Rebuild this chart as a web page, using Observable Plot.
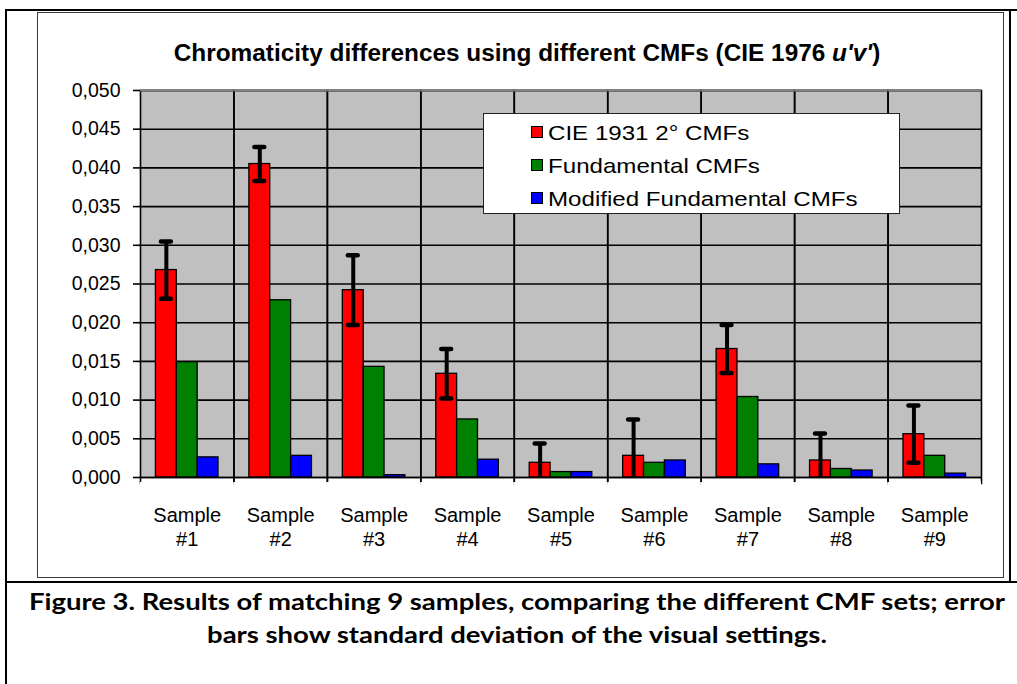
<!DOCTYPE html>
<html>
<head>
<meta charset="utf-8">
<script src="https://cdn.jsdelivr.net/npm/d3@7"></script>
<script src="https://cdn.jsdelivr.net/npm/@observablehq/plot@0.6"></script>
<style>
  html, body { margin: 0; padding: 0; background: #fff; }
  #page { position: relative; width: 1017px; height: 684px; overflow: hidden; font-family: "Liberation Sans", Arial, sans-serif; color: #000; }
  .line { position: absolute; background: #000; }
  .fit { position: absolute; white-space: nowrap; line-height: 1; }
  #chartBox { position: absolute; left: 37px; top: 12px; width: 967px; height: 566px; box-sizing: border-box; border: 1.5px solid #3a3a3a; }
  #legend { position: absolute; left: 483px; top: 113px; width: 417px; height: 101px; box-sizing: border-box; border: 1.5px solid #222; background: #fff; }
  .sw { position: absolute; width: 12px; height: 12px; box-sizing: border-box; border: 1px solid #000; }
  .lt { position: absolute; white-space: nowrap; font-size: 21px; line-height: 1; transform-origin: 0 50%; }
  #plotWrap { position: absolute; left: 0; top: 70px; }
</style>
</head>
<body>
<div id="page">
  <div id="chartBox"></div>
  <div class="line" style="left:5px;top:9px;width:1012px;height:2px;"></div>
  <div class="line" style="left:5px;top:9px;width:2px;height:675px;"></div>
  <div class="line" style="left:1009px;top:9px;width:2px;height:574px;"></div>
  <div class="line" style="left:5px;top:581px;width:1012px;height:2px;"></div>
  <div id="plotWrap"></div>
  <div id="title" class="fit" style="font-weight:bold;font-size:23px;">Chromaticity differences using different CMFs (CIE 1976 <i>u'v'</i>)</div>
  <div id="legend"></div>
  <div id="cap1" class="fit" style="font-family:Lato,'Noto Sans',sans-serif;font-weight:bold;font-size:23.5px;">Figure 3. Results of matching 9 samples, comparing the different CMF sets; error</div>
  <div id="cap2" class="fit" style="font-family:Lato,'Noto Sans',sans-serif;font-weight:bold;font-size:23.5px;">bars show standard deviation of the visual settings.</div>
</div>
<script>
// ---- Data ----
const samples = ["#1", "#2", "#3", "#4", "#5", "#6", "#7", "#8", "#9"];
const series = ["CIE 1931 2° CMFs", "Fundamental CMFs", "Modified Fundamental CMFs"];
const colors = ["#ff0000", "#008000", "#0000ff"];
const cie1931 = [0.0268, 0.0405, 0.0242, 0.0134, 0.0019, 0.0028, 0.0166, 0.0022, 0.0056];
const fundamental = [0.0149, 0.0229, 0.0143, 0.0075, 0.0007, 0.0019, 0.0104, 0.0011, 0.0028];
const modifiedFundamental = [0.0026, 0.0028, 0.0003, 0.0023, 0.0007, 0.0022, 0.0017, 0.0009, 0.0005];
const cie1931SD = [0.0037, 0.0022, 0.0045, 0.0032, 0.0025, 0.0047, 0.0031, 0.0035, 0.0037];
const yTicks = [0, 0.005, 0.010, 0.015, 0.020, 0.025, 0.030, 0.035, 0.040, 0.045, 0.050];

const valuesBySeries = [cie1931, fundamental, modifiedFundamental];
const bars = samples.flatMap((s, i) => series.map((k, j) => ({sample: s, series: k, value: valuesBySeries[j][i]})));
const errs = samples.map((s, i) => ({sample: s, series: series[0], lo: cie1931[i] - cie1931SD[i], hi: cie1931[i] + cie1931SD[i]}));
const fmt = d => d3.format(".3f")(d).replace(".", ",");

const plot = Plot.plot({
  width: 1017,
  height: 480,
  marginLeft: 140,
  marginRight: 36,
  marginTop: 20,
  marginBottom: 73,
  style: {fontFamily: "'Liberation Sans', Arial, sans-serif", fontSize: "19px", color: "#000", background: "transparent", overflow: "visible"},
  fx: {domain: samples, paddingInner: 0, paddingOuter: 0, round: false, axis: null, label: null},
  x: {domain: series, paddingInner: 0, paddingOuter: 0.74, round: false, axis: null},
  y: {domain: [0, 0.05], axis: null},
  color: {domain: series, range: colors},
  marks: [
    Plot.frame({fill: "#c0c0c0", stroke: "none"}),
    Plot.ruleY(yTicks, {stroke: "#000", strokeWidth: 1.6}),
    Plot.frame({stroke: "#000", strokeWidth: 1.6, insetBottom: -6}),
    Plot.ruleY([0], {stroke: "#fff", strokeWidth: 3, dy: 6}),
    Plot.ruleY([0.05], {stroke: "#808080", strokeWidth: 2}),
    Plot.barY(bars, {fx: "sample", x: "series", y: "value", fill: "series", stroke: "#000", strokeWidth: 1.3}),
    Plot.ruleX(errs, {fx: "sample", x: "series", y1: "lo", y2: "hi", stroke: "#000", strokeWidth: 4, clip: true}),
    Plot.tickY(errs, {fx: "sample", x: "series", y: "hi", stroke: "#000", strokeWidth: 4.5, strokeLinecap: "round", insetLeft: 5.5, insetRight: 5.5, clip: true}),
    Plot.tickY(errs, {fx: "sample", x: "series", y: "lo", stroke: "#000", strokeWidth: 4.5, strokeLinecap: "round", insetLeft: 5.5, insetRight: 5.5, clip: true}),
    Plot.ruleY([0], {stroke: "#000", strokeWidth: 1.6}),
    Plot.axisY({ticks: yTicks, tickFormat: fmt, tickSize: 7, tickPadding: 13, strokeWidth: 1.6, fontSize: 19.5, label: null}),
    Plot.text(samples, {fx: d => d, frameAnchor: "bottom", text: d => "Sample\n" + d, lineAnchor: "top", dy: 27, fontSize: 20, lineHeight: 1.2, fill: "#000"})
  ]
});
document.getElementById("plotWrap").appendChild(plot);

// ---- Legend ----
const page = document.getElementById("page");
const rowsY = [132, 165, 198];
const ltEls = [];
series.forEach((name, i) => {
  const sw = document.createElement("div");
  sw.className = "sw";
  sw.style.left = "531px";
  sw.style.top = (rowsY[i] - 6) + "px";
  sw.style.background = colors[i];
  page.appendChild(sw);
  const t = document.createElement("div");
  t.className = "lt";
  t.textContent = name;
  t.style.left = "548px";
  page.appendChild(t);
  ltEls.push([t, rowsY[i]]);
});

// ---- Fit texts to the reference widths ----
function place(el, cx, cy, targetW) {
  const w = el.offsetWidth;
  const s = targetW ? targetW / w : 1;
  el.style.left = cx + "px";
  el.style.top = cy + "px";
  el.style.transform = `translate(-50%,-50%) scaleX(${s})`;
  return s;
}
place(document.getElementById("title"), 527, 53, 707);
const capScale = place(document.getElementById("cap1"), 517, 602, 976);
const cap2 = document.getElementById("cap2");
cap2.style.left = "517px"; cap2.style.top = "635px";
cap2.style.transform = `translate(-50%,-50%) scaleX(${capScale})`;
const lastW = ltEls[2][0].offsetWidth;
const ls = 310 / lastW;
ltEls.forEach(([el, cy]) => {
  el.style.top = (cy - el.offsetHeight / 2) + "px";
  el.style.transform = `scaleX(${ls})`;
});
</script>
</body>
</html>
